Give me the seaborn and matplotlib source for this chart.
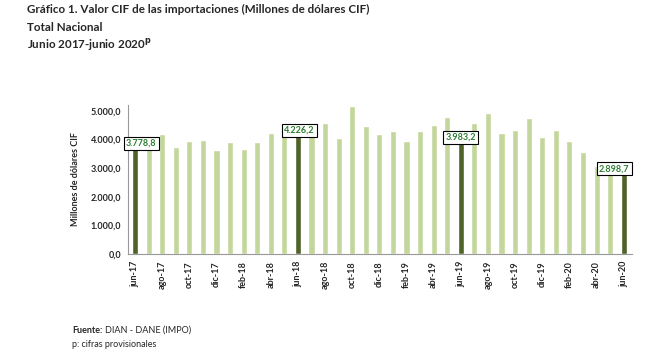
import numpy as np
import pandas as pd
import seaborn as sns
import matplotlib.pyplot as plt

months = ["jun-17", "jul-17", "ago-17", "sep-17", "oct-17", "nov-17", "dic-17",
          "ene-18", "feb-18", "mar-18", "abr-18", "may-18", "jun-18", "jul-18",
          "ago-18", "sep-18", "oct-18", "nov-18", "dic-18", "ene-19", "feb-19",
          "mar-19", "abr-19", "may-19", "jun-19", "jul-19", "ago-19", "sep-19",
          "oct-19", "nov-19", "dic-19", "ene-20", "feb-20", "mar-20", "abr-20",
          "may-20", "jun-20"]
values = [3778.8, 3700, 4190, 3735, 3944, 3979, 3631,
          3909, 3666, 3909, 4223, 4501, 4226.2, 4100,
          4571, 4049, 5162, 4466, 4188, 4292, 3944,
          4292, 4501, 4780, 3983.2, 4559, 4919, 4223,
          4327, 4745, 4084, 4327, 3944, 3561, 3074,
          2850, 2898.7]
highlight = ["jun-17", "jun-18", "jun-19", "jun-20"]

light = "#C3D69B"
dark = "#4F6228"


def fmt(v):
    # formato colombiano: 3.778,8
    return f"{v:,.1f}".replace(",", "X").replace(".", ",").replace("X", ".")


df = pd.DataFrame({"mes": months, "valor": values})

sns.set_style("white")
plt.rcParams["font.family"] = ["Lato", "DejaVu Sans"]

fig = plt.figure(figsize=(6.51, 3.52), dpi=100, facecolor="white")
ax = fig.add_axes([0.197, 0.278, 0.774, 0.424])

colors = [dark if m in highlight else light for m in months]
sns.barplot(data=df, x="mes", y="valor", hue="mes", palette=colors,
            legend=False, width=0.45, ax=ax, saturation=1)

ax.set_ylim(0, 5200)
ax.set_xlim(-0.45, 36.62)
yt = np.arange(0, 5001, 1000)
ax.set_yticks(yt)
ax.set_yticklabels([fmt(v) for v in yt], fontsize=6.5, fontweight="bold")
ax.set_xticks(range(0, len(months), 2))
ax.set_xticklabels(months[::2], rotation=90, fontsize=6.5, fontweight="bold")
ax.set_xticks(np.arange(-0.5, len(months), 2), minor=True)
ax.tick_params(axis="x", which="major", length=0, pad=5)
ax.tick_params(axis="x", which="minor", length=3, color="#999999", width=0.8)
ax.tick_params(axis="y", length=3, color="#999999", width=0.8, pad=2)
ax.set_xlabel("")
ax.set_ylabel("Millones de dólares CIF", fontsize=6.5, fontweight="bold", labelpad=8)

for s in ["top", "right"]:
    ax.spines[s].set_visible(False)
for s in ["left", "bottom"]:
    ax.spines[s].set_color("#999999")
    ax.spines[s].set_linewidth(0.8)

# etiquetas de los meses de junio
offsets = {"jun-17": 0.45, "jun-18": 0.1, "jun-19": 0.0, "jun-20": -0.7}
for m in highlight:
    i = months.index(m)
    v = values[i]
    ax.text(i + offsets[m], v + 80, fmt(v), ha="center", va="center",
            fontsize=6.5, fontweight="bold", color="#2E7D32",
            bbox=dict(boxstyle="square,pad=0.25", fc="white", ec="black", lw=0.8))

fig.text(0.041, 0.972, "Gráfico 1. Valor CIF de las importaciones (Millones de dólares CIF)",
         fontsize=8.4, fontweight="bold", va="center")
fig.text(0.041, 0.923, "Total Nacional", fontsize=8.4, fontweight="bold", va="center")
fig.text(0.041, 0.873, "Junio 2017-junio 2020$^{\\mathbf{p}}$", fontsize=8.4,
         fontweight="bold", va="center")

fig.text(0.111, 0.062, "Fuente:", fontsize=6.5, fontweight="bold", va="center")
fig.text(0.162, 0.062, "DIAN - DANE (IMPO)", fontsize=6.5, va="center")
fig.text(0.111, 0.022, "p: cifras provisionales", fontsize=6.5, va="center")

plt.savefig("out.png", dpi=100, facecolor="white")
plt.close()
